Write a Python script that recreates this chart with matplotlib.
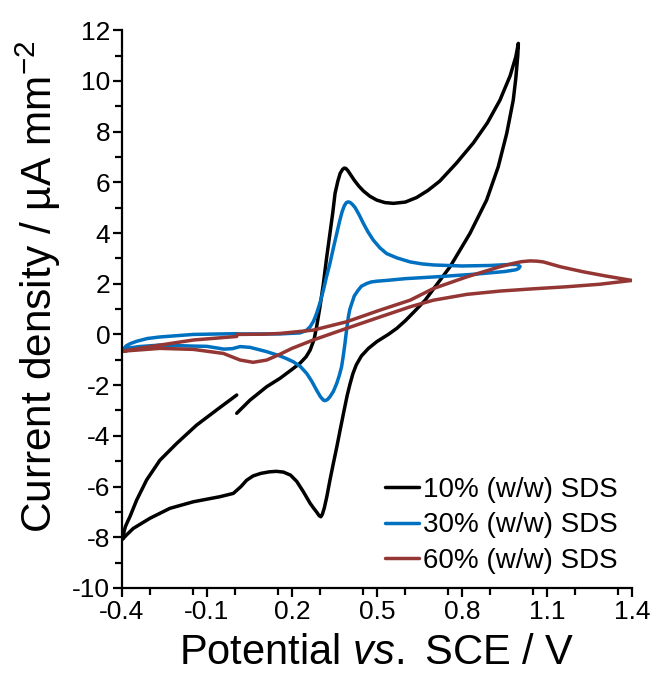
import matplotlib
matplotlib.use("Agg")
import matplotlib.pyplot as plt
from matplotlib.ticker import MultipleLocator

plt.rcParams['font.family'] = ['Liberation Sans', 'DejaVu Sans']
plt.rcParams['mathtext.fontset'] = 'custom'
plt.rcParams['mathtext.rm'] = 'Liberation Sans'
plt.rcParams['mathtext.it'] = 'Liberation Sans:italic'
plt.rcParams['axes.unicode_minus'] = False

# ---- data (potential in V vs SCE, current density in uA mm^-2) ----
sds10_x = [0.005, 0.052, 0.111, 0.158, 0.200, 0.228, 0.250, 0.264, 0.278, 0.287, 0.299, 0.311,
           0.322, 0.334, 0.344, 0.352, 0.362, 0.370, 0.378, 0.384, 0.390, 0.398, 0.408, 0.420,
           0.436, 0.452, 0.475, 0.499, 0.528, 0.558, 0.600, 0.640, 0.680, 0.722, 0.780, 0.840,
           0.890, 0.934, 0.970, 0.990, 0.999,
           0.997, 0.990, 0.981, 0.958, 0.928, 0.887, 0.828, 0.758, 0.710, 0.670, 0.630, 0.600,
           0.570, 0.540, 0.500, 0.470, 0.445, 0.427, 0.415, 0.405, 0.395, 0.383, 0.370, 0.358,
           0.346, 0.334, 0.323, 0.314, 0.307, 0.302, 0.296, 0.288, 0.277, 0.264, 0.240, 0.217,
           0.195, 0.170, 0.145, 0.120, 0.090, 0.063, 0.040, 0.020, -0.007, -0.054, -0.148,
           -0.231, -0.301, -0.360, -0.385, -0.398,
           -0.395, -0.388, -0.380, -0.372, -0.348, -0.313, -0.266, -0.207, -0.137, -0.066, 0.005]
sds10_y = [-3.11, -2.59, -2.06, -1.73, -1.38, -1.14, -0.88, -0.62, -0.20, 0.30, 1.10, 2.01,
           3.00, 3.98, 4.80, 5.56, 6.05, 6.35, 6.50, 6.56, 6.55, 6.45, 6.28, 6.08,
           5.85, 5.66, 5.45, 5.30, 5.20, 5.17, 5.22, 5.40, 5.68, 6.05, 6.75, 7.55,
           8.35, 9.24, 10.20, 10.95, 11.48,
           11.00, 10.10, 9.24, 7.93, 6.61, 5.30, 3.98, 2.67, 1.95, 1.35, 0.88, 0.54,
           0.24, 0.00, -0.28, -0.55, -0.85, -1.20, -1.55, -1.95, -2.40, -3.05, -3.77, -4.45,
           -5.09, -5.75, -6.40, -6.85, -7.10, -7.19, -7.15, -7.02, -6.86, -6.66, -6.20, -5.80,
           -5.55, -5.43, -5.40, -5.42, -5.48, -5.58, -5.75, -6.00, -6.27, -6.40, -6.60,
           -6.86, -7.25, -7.65, -7.92, -8.08,
           -7.88, -7.58, -7.38, -7.19, -6.53, -5.74, -4.96, -4.30, -3.58, -2.98, -2.39]

sds30_x = [0.005, 0.100, 0.158, 0.228, 0.250, 0.264, 0.276, 0.287, 0.299, 0.311, 0.322, 0.334,
           0.346, 0.358, 0.368, 0.377, 0.385, 0.392, 0.399, 0.406, 0.414, 0.423, 0.437, 0.452,
           0.468, 0.487, 0.510, 0.534, 0.570, 0.617, 0.660, 0.700, 0.800, 0.900, 0.970, 0.995,
           1.005, 1.000, 0.990, 0.950, 0.850, 0.720, 0.600, 0.534, 0.500, 0.480, 0.464, 0.445,
           0.434, 0.420, 0.411, 0.404, 0.399, 0.393, 0.387, 0.381, 0.375, 0.367, 0.358, 0.346,
           0.334, 0.326, 0.320, 0.315, 0.311, 0.306, 0.300, 0.287, 0.270, 0.252, 0.230, 0.205,
           0.180, 0.158, 0.111, 0.052, 0.017, -0.010, -0.040, -0.100, -0.148, -0.266, -0.340,
           -0.385, -0.398,
           -0.385, -0.370, -0.348, -0.310, -0.266, -0.148, 0.005]
sds30_y = [0.02, 0.02, 0.02, 0.06, 0.15, 0.30, 0.52, 0.83, 1.25, 1.75, 2.28, 2.80,
           3.40, 3.98, 4.46, 4.84, 5.08, 5.20, 5.23, 5.20, 5.12, 5.00, 4.72, 4.38,
           4.05, 3.72, 3.42, 3.19, 3.02, 2.86, 2.78, 2.74, 2.70, 2.72, 2.76, 2.76,
           2.68, 2.60, 2.55, 2.48, 2.38, 2.28, 2.20, 2.13, 2.10, 2.07, 2.01, 1.90,
           1.75, 1.52, 1.22, 0.98, 0.69, 0.20, -0.36, -0.85, -1.28, -1.62, -1.93, -2.25,
           -2.46, -2.56, -2.60, -2.61, -2.59, -2.53, -2.45, -2.20, -1.85, -1.54, -1.27, -1.08,
           -0.95, -0.85, -0.68, -0.51, -0.48, -0.56, -0.58, -0.47, -0.46, -0.42, -0.48,
           -0.55, -0.62,
           -0.45, -0.36, -0.27, -0.16, -0.10, 0.00, 0.03]

sds60_x = [0.005, 0.100, 0.158, 0.275, 0.393, 0.511, 0.617, 0.699, 0.817, 0.934, 0.980, 1.010,
           1.040, 1.065, 1.087, 1.147, 1.228, 1.310, 1.400,
           1.287, 1.169, 1.052, 0.934, 0.817, 0.699, 0.617, 0.511, 0.393, 0.275, 0.200, 0.158,
           0.111, 0.063, 0.017, -0.042, -0.148, -0.266, -0.398,
           -0.266, -0.148, 0.005]
sds60_y = [0.00, 0.01, 0.04, 0.17, 0.50, 0.96, 1.35, 1.81, 2.27, 2.67, 2.80, 2.87,
           2.90, 2.89, 2.86, 2.67, 2.47, 2.30, 2.13,
           1.98, 1.88, 1.80, 1.71, 1.58, 1.35, 1.09, 0.69, 0.24, -0.22, -0.55, -0.78,
           -1.01, -1.10, -1.01, -0.75, -0.59, -0.55, -0.66,
           -0.42, -0.22, -0.08]

labels = ['10% (w/w) SDS', '30% (w/w) SDS', '60% (w/w) SDS']
colors = ['#000000', '#0070C0', '#943634']

x_ticks = [-0.4, -0.1, 0.2, 0.5, 0.8, 1.1, 1.4]
x_tick_labels = ['-0.4', '-0.1', '0.2', '0.5', '0.8', '1.1', '1.4']
y_ticks = [-10, -8, -6, -4, -2, 0, 2, 4, 6, 8, 10, 12]

fig = plt.figure(figsize=(6.54, 6.86), dpi=100)
ax = fig.add_axes([0.1865, 0.1429, 0.7798, 0.8131])

series = [(sds10_x, sds10_y), (sds30_x, sds30_y), (sds60_x, sds60_y)]
for (xs, ys), lab, col in zip(series, labels, colors):
    ax.plot(xs, ys, color=col, lw=2.5, label=lab, solid_joinstyle='round', solid_capstyle='round')

ax.set_xlim(-0.4, 1.4)
ax.set_ylim(-10, 12)
ax.set_xticks(x_ticks)
ax.set_xticklabels(x_tick_labels)
ax.set_yticks(y_ticks)
ax.xaxis.set_minor_locator(MultipleLocator(0.15))
ax.yaxis.set_minor_locator(MultipleLocator(1))

for s in ['top', 'right']:
    ax.spines[s].set_visible(False)
for s in ['left', 'bottom']:
    ax.spines[s].set_linewidth(1.6)

ax.tick_params(which='major', direction='out', length=6.5, width=1.6, labelsize=19, pad=2)
ax.tick_params(which='minor', direction='out', length=4.8, width=1.6)

ax.set_xlabel(r'Potential $vs.$ SCE / V', fontsize=30, labelpad=7)
ax.set_ylabel(r'Current density / µA mm$^{-2}$', fontsize=30.5)
ax.yaxis.set_label_coords(-0.115, 0.54)

ax.legend(loc='lower right', bbox_to_anchor=(1.0, 0.0), frameon=False, fontsize=20,
          handlelength=1.25, handletextpad=0.12, labelspacing=0.33, borderaxespad=0.12)

fig.savefig('out.png', dpi=100)
